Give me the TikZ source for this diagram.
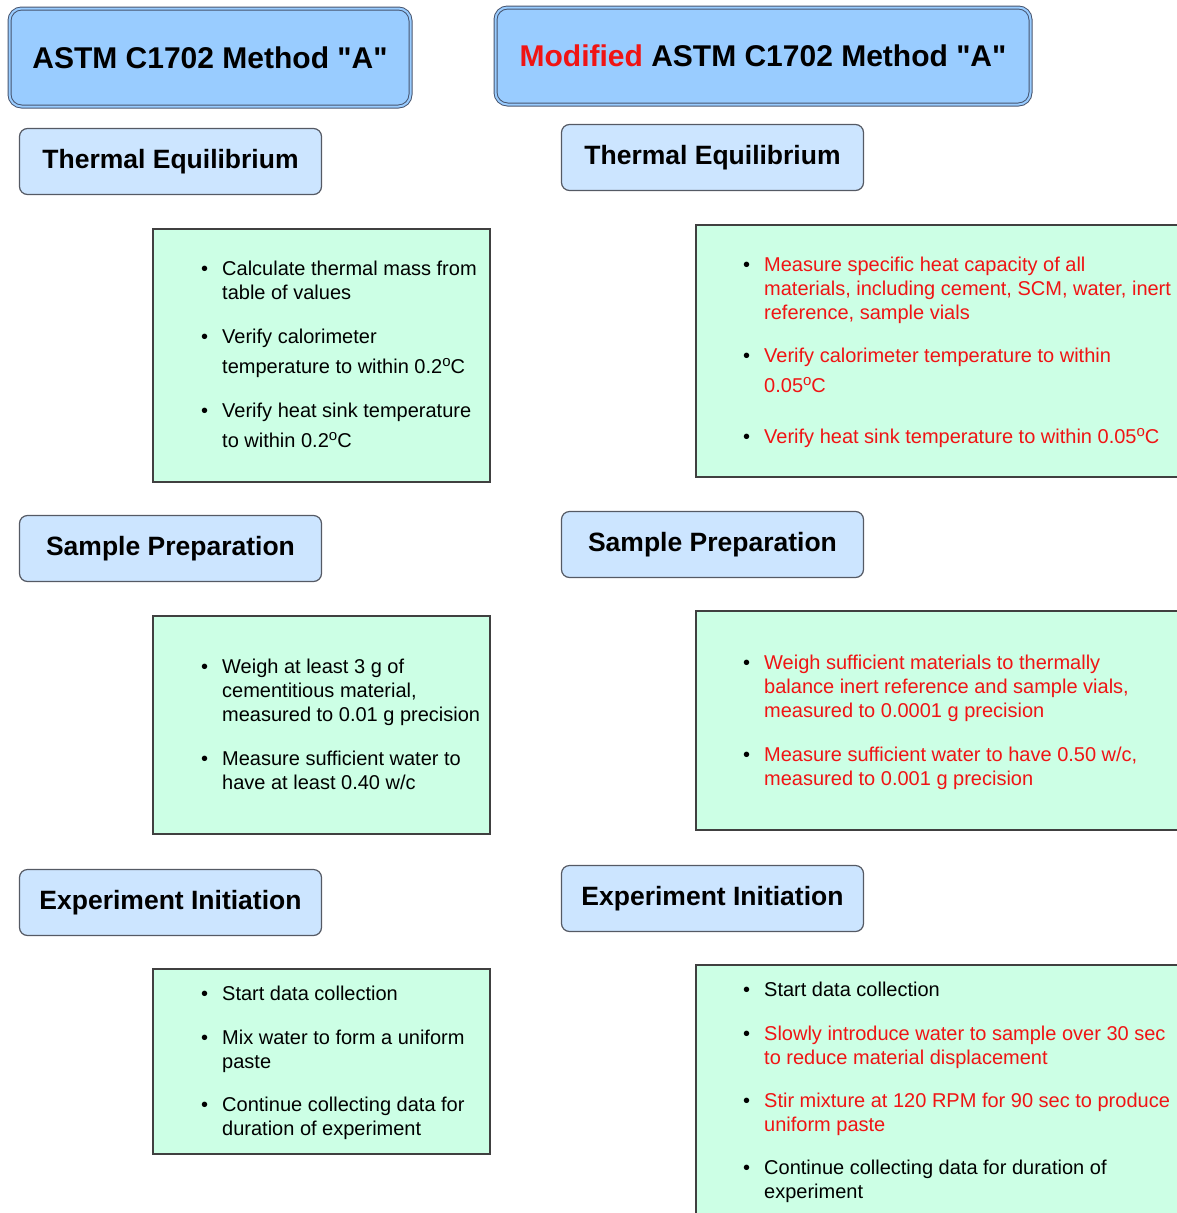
\documentclass[tikz,border=0pt]{standalone}
\usepackage{fontspec}
\setmainfont{Liberation Sans}[Ligatures=TeXOff]
\usetikzlibrary{positioning}
\definecolor{HdrBlue}{RGB}{153,204,255}
\definecolor{HdrEdge}{RGB}{70,84,110}
\definecolor{SectBlue}{RGB}{204,229,255}
\definecolor{SectEdge}{RGB}{85,90,100}
\definecolor{PanelGreen}{RGB}{204,255,229}
\definecolor{PanelEdge}{RGB}{64,64,64}
\definecolor{ModRed}{RGB}{240,20,20}
\tikzset{
  hdr/.style   = {draw=HdrEdge, line width=1pt, double=HdrBlue,
                  double distance=2pt, fill=HdrBlue, rounded corners=12pt,
                  font=\fontsize{30}{36}\selectfont\bfseries},
  sect/.style  = {draw=SectEdge, line width=1.2pt, fill=SectBlue,
                  rounded corners=8pt, minimum width=302pt,
                  minimum height=66pt,
                  font=\fontsize{26.5}{32}\selectfont\bfseries},
  panel/.style = {draw=PanelEdge, line width=1.5pt, fill=PanelGreen},
  item/.style  = {anchor=base west, align=left, inner sep=0pt,
                  font=\fontsize{20}{24}\selectfont},
  hot/.style   = {item, text=ModRed}
}
\newcommand{\bul}{\makebox[0pt][r]{\color{black}\textbullet\hspace{14pt}}}
\newcommand{\degC}{\raisebox{6.5pt}{\fontsize{15}{15}\selectfont o}C}

\begin{document}
\begin{tikzpicture}[x=1pt, y=-1pt]
\useasboundingbox (0,0) rectangle (1177,1213);
\clip (0,0) rectangle (1177,1213);

% titles
\node[hdr, minimum width=401pt, minimum height=98pt] (hA) at (210,57.5)
    {ASTM C1702 Method "A"};
\node[hdr, minimum width=535pt, minimum height=97pt] (hB) at (763,56)
    {\textcolor{ModRed}{Modified} ASTM C1702 Method "A"};

% section labels
\node[sect] (eqA) at (170.5,161.5) {Thermal Equilibrium};
\node[sect] (eqB) at (712.5,157.5) {Thermal Equilibrium};
\node[sect] (prA) at (170.5,548.5) {Sample Preparation};
\node[sect] (prB) at (712.5,544.5) {Sample Preparation};
\node[sect] (exA) at (170.5,902.5) {Experiment Initiation};
\node[sect] (exB) at (712.5,898.5) {Experiment Initiation};

% green panels
\node[panel, minimum width=337pt, minimum height=253pt] (peqA) at (321.5,355.5) {};
\node[panel, minimum width=489pt, minimum height=252pt] (peqB) at (940.5,351) {};
\node[panel, minimum width=337pt, minimum height=218pt] (pprA) at (321.5,725) {};
\node[panel, minimum width=489pt, minimum height=219pt] (pprB) at (940.5,720.5) {};
\node[panel, minimum width=337pt, minimum height=185pt] (pexA) at (321.5,1061.5) {};
\node[panel, minimum width=489pt, minimum height=265pt] (pexB) at (940.5,1097.5) {};

% standard method (base = last line)
\node[item] (eqA1) at (222,299) {\bul Calculate thermal mass from\\table of values};
\node[item] (eqA2) at (222,373) {\bul Verify calorimeter\\[6pt]temperature to within 0.2\degC};
\node[item] (eqA3) at (222,447) {\bul Verify heat sink temperature\\[6pt]to within 0.2\degC};

\node[item] (prA1) at (222,721) {\bul Weigh at least 3 g of\\cementitious material,\\measured to 0.01 g precision};
\node[item] (prA2) at (222,789) {\bul Measure sufficient water to\\have at least 0.40 w/c};

\node[item] (exA1) at (222,1000) {\bul Start data collection};
\node[item] (exA2) at (222,1068) {\bul Mix water to form a uniform\\paste};
\node[item] (exA3) at (222,1135) {\bul Continue collecting data for\\duration of experiment};

% modified method
\node[hot] (eqB1) at (764,319) {\bul Measure specific heat capacity of all\\materials, including cement, SCM, water, inert\\reference, sample vials};
\node[hot] (eqB2) at (764,392) {\bul Verify calorimeter temperature to within\\[6pt]0.05\degC};
\node[hot] (eqB3) at (764,443) {\bul Verify heat sink temperature to within 0.05\degC};

\node[hot] (prB1) at (764,717) {\bul Weigh sufficient materials to thermally\\balance inert reference and sample vials,\\measured to 0.0001 g precision};
\node[hot] (prB2) at (764,785) {\bul Measure sufficient water to have 0.50 w/c,\\measured to 0.001 g precision};

\node[item] (exB1) at (764,996) {\bul Start data collection};
\node[hot] (exB2) at (764,1064) {\bul Slowly introduce water to sample over 30 sec\\to reduce material displacement};
\node[hot] (exB3) at (764,1131) {\bul Stir mixture at 120 RPM for 90 sec to produce\\uniform paste};
\node[item] (exB4) at (764,1198) {\bul Continue collecting data for duration of\\experiment};
\end{tikzpicture}
\end{document}
